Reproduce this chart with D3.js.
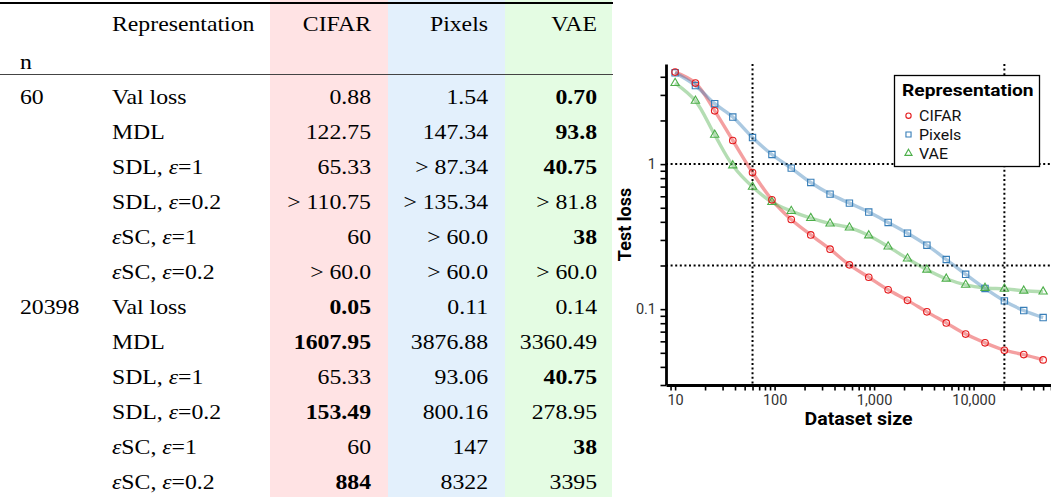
<!DOCTYPE html>
<html>
<head>
<meta charset="utf-8">
<script src="https://cdn.jsdelivr.net/npm/d3@7"></script>
<style>
  html, body { margin: 0; padding: 0; background: #fff; }
  svg { display: block; }
</style>
</head>
<body>
<svg id="fig" width="1051" height="497"></svg>
<script>
// ---------- table data ----------
const columns = ["CIFAR", "Pixels", "VAE"];
const nValues = ["60", "20398"];
const metrics = ["Val loss", "MDL", "SDL, ε=1", "SDL, ε=0.2", "εSC, ε=1", "εSC, ε=0.2"];
const cifarCol  = ["0.88", "122.75", "65.33", "> 110.75", "60", "> 60.0",
                   "0.05", "1607.95", "65.33", "153.49", "60", "884"];
const pixelsCol = ["1.54", "147.34", "> 87.34", "> 135.34", "> 60.0", "> 60.0",
                   "0.11", "3876.88", "93.06", "800.16", "147", "8322"];
const vaeCol    = ["0.70", "93.8", "40.75", "> 81.8", "38", "> 60.0",
                   "0.14", "3360.49", "40.75", "278.95", "38", "3395"];
const cifarBold  = [0,0,0,0,0,0, 1,1,0,1,0,1];
const pixelsBold = [0,0,0,0,0,0, 0,0,0,0,0,0];
const vaeBold    = [1,1,1,0,1,0, 0,0,1,0,1,0];

// ---------- chart data ----------
const sizes = [10, 16, 25, 38, 60, 94, 147, 231, 361, 565, 884, 1384, 2167, 3395, 5315, 8322, 13029, 20398, 31934, 50000];
const cifarLoss  = [4.31, 3.62, 2.33, 1.455, 0.875, 0.567, 0.415, 0.325, 0.259, 0.202, 0.166, 0.136, 0.115, 0.0958, 0.0804, 0.0673, 0.0586, 0.0521, 0.0486, 0.0447];
const pixelsLoss = [4.26, 3.48, 2.61, 2.11, 1.525, 1.165, 0.938, 0.747, 0.621, 0.538, 0.467, 0.396, 0.334, 0.276, 0.22, 0.174, 0.139, 0.114, 0.0978, 0.0875];
const vaeLoss    = [3.62, 2.73, 1.59, 0.978, 0.697, 0.547, 0.474, 0.424, 0.389, 0.365, 0.322, 0.27, 0.223, 0.187, 0.162, 0.147, 0.14, 0.138, 0.134, 0.132];
const seriesNames = ["CIFAR", "Pixels", "VAE"];
const refX = [60, 20398];
const refY = [1, 0.2];
const xTickLabels = ["10", "100", "1,000", "10,000"];
const yTickLabels = ["0.1", "1"];

const svg = d3.select("#fig");
svg.append("rect").attr("width", 1051).attr("height", 497).attr("fill", "#fff");

// ================= TABLE =================
const tbl = svg.append("g").attr("font-family", "'Liberation Serif', 'Times New Roman', serif")
  .attr("font-size", 22).attr("fill", "#000");
const shade = ["#FFE3E4", "#E3F0FC", "#E4FCE3"];
const colEdges = [270, 388, 505, 612];
const colRight = [371, 488, 597];
columns.forEach((c, i) => {
  tbl.append("rect").attr("x", colEdges[i]).attr("y", 0)
    .attr("width", colEdges[i + 1] - colEdges[i]).attr("height", 497).attr("fill", shade[i]);
});
tbl.append("line").attr("x1", 0).attr("x2", 613).attr("y1", 3).attr("y2", 3)
  .attr("stroke", "#000").attr("stroke-width", 2);
tbl.append("line").attr("x1", 0).attr("x2", 613).attr("y1", 74.5).attr("y2", 74.5)
  .attr("stroke", "#444").attr("stroke-width", 1);

const sx = 1.08;
function tText(x, y, anchor, bold) {
  return tbl.append("text").attr("transform", `translate(${x},${y}) scale(${sx},1)`)
    .attr("text-anchor", anchor).attr("font-weight", bold ? "bold" : "normal");
}
tText(112, 31, "start").text("Representation");
columns.forEach((c, i) => tText(colRight[i], 31, "end").text(c));
tText(20, 69, "start").text("n");

const rowY = i => 103.5 + i * 35;
const colVals = [cifarCol, pixelsCol, vaeCol];
const colBold = [cifarBold, pixelsBold, vaeBold];
nValues.forEach((n, g) => {
  tText(20, rowY(g * metrics.length), "start").text(n);
  metrics.forEach((m, j) => {
    const r = g * metrics.length + j;
    const t = tText(112, rowY(r), "start");
    m.split(/(ε)/).filter(s => s.length).forEach(s => {
      t.append("tspan").attr("font-style", s === "ε" ? "italic" : "normal").text(s);
    });
    colVals.forEach((vals, c) => {
      tText(colRight[c], rowY(r), "end", colBold[c][r]).text(vals[r]);
    });
  });
});

// ================= CHART =================
const x = d3.scaleLog().domain([8.1, 60000]).range([666, 1051]);
const y = d3.scaleLog().domain([0.03, 4.9]).range([385, 64]);
const chart = svg.append("g").attr("font-family", "Roboto, 'Noto Sans', sans-serif");

const colors = ["#E41A1C", "#377EB8", "#4DAF4A"];
const losses = [cifarLoss, pixelsLoss, vaeLoss];

// reference dotted lines
const dots = chart.append("g").attr("stroke", "#000").attr("stroke-width", 2)
  .attr("stroke-dasharray", "2,2.6").attr("fill", "none");
refY.forEach(v => dots.append("line").attr("x1", x.range()[0]).attr("x2", x.range()[1])
  .attr("y1", y(v)).attr("y2", y(v)));
refX.forEach(v => dots.append("line").attr("x1", x(v)).attr("x2", x(v))
  .attr("y1", y.range()[1]).attr("y2", y.range()[0]));

// lines
const line = d3.line().x(d => x(d[0])).y(d => y(d[1])).curve(d3.curveCatmullRom.alpha(0.5));
losses.forEach((ls, i) => {
  chart.append("path").datum(sizes.map((s, k) => [s, ls[k]]))
    .attr("d", line).attr("fill", "none").attr("stroke", colors[i])
    .attr("stroke-opacity", 0.42).attr("stroke-width", 3.4).attr("stroke-linejoin", "round");
});

// markers
const symTypes = [d3.symbolCircle, d3.symbolSquare, d3.symbolTriangle];
const symSizes = [34, 40, 30];
[1, 2, 0].forEach(i => {
  const sym = d3.symbol().type(symTypes[i]).size(symSizes[i]);
  chart.append("g").selectAll("path").data(sizes.map((s, k) => [s, losses[i][k]])).join("path")
    .attr("transform", d => `translate(${x(d[0])},${y(d[1])})`)
    .attr("d", sym).attr("fill", "none").attr("stroke", colors[i]).attr("stroke-width", 1.1);
});

// axes
const xMajor = [10, 100, 1000, 10000];
const xTicks = [];
[1, 10, 100, 1000, 10000].forEach(b => d3.range(1, 10).forEach(m => {
  const v = b * m; if (v >= x.domain()[0] && v <= x.domain()[1]) xTicks.push(v);
}));
const xAxis = d3.axisBottom(x).tickValues(xTicks).tickSize(5.5).tickSizeOuter(0)
  .tickFormat(d => { const k = xMajor.indexOf(d); return k >= 0 ? xTickLabels[k] : ""; });
const gx = chart.append("g").attr("transform", `translate(0,${y.range()[0]})`).call(xAxis);
gx.select(".domain").attr("stroke-width", 2.8).attr("stroke", "#000");
gx.selectAll(".tick line").attr("stroke-width", 1.6).attr("stroke", "#000");
gx.selectAll(".tick text").attr("font-size", 14.5).attr("fill", "#333")
  .attr("font-family", "Roboto, sans-serif").attr("dy", "0.9em").attr("y", 7);

const yMajor = [0.1, 1];
const yTicks = [];
[0.01, 0.1, 1].forEach(b => d3.range(1, 10).forEach(m => {
  const v = +(b * m).toPrecision(3); if (v >= y.domain()[0] - 1e-9 && v <= y.domain()[1]) yTicks.push(v);
}));
const yAxis = d3.axisLeft(y).tickValues(yTicks).tickSize(5.5).tickSizeOuter(0)
  .tickFormat(d => { const k = yMajor.indexOf(d); return k >= 0 ? yTickLabels[k] : ""; });
const gy = chart.append("g").attr("transform", `translate(${x.range()[0]},0)`).call(yAxis);
gy.select(".domain").attr("stroke-width", 2.8).attr("stroke", "#000");
gy.selectAll(".tick line").attr("stroke-width", 1.6).attr("stroke", "#000");
gy.selectAll(".tick text").attr("font-size", 14.5).attr("fill", "#333")
  .attr("font-family", "Roboto, sans-serif").attr("x", -10);

// axis titles
chart.append("text")
  .attr("transform", `translate(${(x.range()[0] + x.range()[1]) / 2},425) scale(1.12,1)`)
  .attr("text-anchor", "middle").attr("font-weight", "bold").attr("font-size", 17.5).text("Dataset size");
chart.append("text").attr("transform", `translate(630.5,${(y.range()[0] + y.range()[1]) / 2}) rotate(-90)`)
  .attr("text-anchor", "middle").attr("font-weight", "bold").attr("font-size", 18).text("Test loss");

// legend
const lg = chart.append("g");
lg.append("rect").attr("x", 894.5).attr("y", 75.5).attr("width", 145).attr("height", 91)
  .attr("fill", "#fff").attr("stroke", "#000").attr("stroke-width", 1.3);
lg.append("text").attr("transform", "translate(902,96) scale(1.13,1)")
  .attr("font-weight", "bold").attr("font-size", 17).text("Representation");
const legSizes = [22, 26, 22];
seriesNames.forEach((nm, i) => {
  const cy = 115.7 + i * 18.8;
  lg.append("path").attr("transform", `translate(908.5,${cy})`)
    .attr("d", d3.symbol().type(symTypes[i]).size(legSizes[i])())
    .attr("fill", "none").attr("stroke", colors[i]).attr("stroke-width", 1.1);
  lg.append("text").attr("transform", `translate(919,${cy}) scale(1.1,1)`).attr("dy", "0.36em")
    .attr("font-size", 14.5).attr("fill", "#111").text(nm);
});
</script>
</body>
</html>
